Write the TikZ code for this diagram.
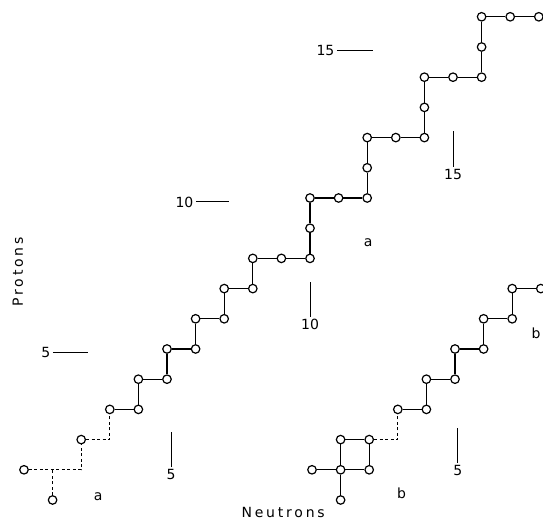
\documentclass[tikz,border=0pt]{standalone}
\usepackage{fontspec}
\setmainfont{DejaVu Sans}
\usetikzlibrary{positioning}

\tikzset{
  nuc/.style={circle,draw,fill=white,inner sep=0pt,minimum size=8.5pt,line width=1.2pt},
  bond/.style={line width=1.3pt},
  gap/.style={line width=1.2pt,dash pattern=on 3pt off 2.5pt},
  scaletick/.style={line width=1pt},
  lbl/.style={font=\fontsize{14}{16}\selectfont},
  word/.style={font=\fontsize{14}{16}\selectfont\addfontfeatures{LetterSpace=20}}
}

\begin{document}
\begin{tikzpicture}[x=28.6pt,y=30.2pt]
\useasboundingbox (-24pt,-21pt) rectangle (519pt,500pt);

% chart a
\foreach \n/\z in {0/1,1/0,2/2,3/3,4/3,4/4,5/4,5/5,6/5,6/6,7/6,7/7,8/7,8/8,9/8,10/8,10/9,10/10,
                   11/10,12/10,12/11,12/12,13/12,14/12,14/13,14/14,15/14,16/14,16/15,16/16,17/16,18/16}
  \node [nuc] (a-\n-\z) at (\n,\z) {};
\coordinate (a-1-1) at (1,1);
\coordinate (a-2-1) at (2,1);
\coordinate (a-3-2) at (3,2);

\draw [gap] (a-0-1) -- (a-1-1) -- (a-2-1) -- (a-2-2) -- (a-3-2) -- (a-3-3);
\draw [gap] (a-1-0) -- (a-1-1);
\draw [bond] (a-3-3) -- (a-4-3) -- (a-4-4) -- (a-5-4) -- (a-5-5) -- (a-6-5) -- (a-6-6) -- (a-7-6)
  -- (a-7-7) -- (a-8-7) -- (a-8-8) -- (a-9-8) -- (a-10-8) -- (a-10-9) -- (a-10-10) -- (a-11-10)
  -- (a-12-10) -- (a-12-11) -- (a-12-12) -- (a-13-12) -- (a-14-12) -- (a-14-13) -- (a-14-14)
  -- (a-15-14) -- (a-16-14) -- (a-16-15) -- (a-16-16) -- (a-17-16) -- (a-18-16);

% chart b
\begin{scope}[shift={(10.07,0)}]
\foreach \n/\z in {0/1,1/1,1/0,2/1,2/2,1/2,3/3,4/3,4/4,5/4,5/5,6/5,6/6,7/6,7/7,8/7}
  \node [nuc] (b-\n-\z) at (\n,\z) {};
\coordinate (b-3-2) at (3,2);

\draw [bond] (b-0-1) -- (b-1-1) -- (b-2-1) -- (b-2-2) -- (b-1-2) -- (b-1-1) -- (b-1-0);
\draw [gap] (b-2-2) -- (b-3-2) -- (b-3-3);
\draw [bond] (b-3-3) -- (b-4-3) -- (b-4-4) -- (b-5-4) -- (b-5-5) -- (b-6-5) -- (b-6-6) -- (b-7-6)
  -- (b-7-7) -- (b-8-7);
\end{scope}

% proton ticks
\path (1.01,4.87) coordinate (P5);
\path (6.01,9.87) coordinate (P10);
\path (10.94,14.87) coordinate (P15);
\draw [scaletick] (P5) -- ++(1.23,0);
\draw [scaletick] (P10) -- ++(1.16,0);
\draw [scaletick] (P15) -- ++(1.26,0);
\node [lbl, left=-1pt of P5] (lp5) {5};
\node [lbl, left=-1pt of P10] (lp10) {10};
\node [lbl, left=-1pt of P15] (lp15) {15};

% neutron ticks
\path (5.14,1.09) coordinate (N5a);
\path (10.0,6.06) coordinate (N10a);
\path (15.0,11.03) coordinate (N15a);
\path (15.17,1.23) coordinate (N5b);
\draw [scaletick] (N5a) -- ++(0,1.16);
\draw [scaletick] (N10a) -- ++(0,1.16);
\draw [scaletick] (N15a) -- ++(0,1.19);
\draw [scaletick] (N5b) -- ++(0,1.15);
\node [lbl, below=-1pt of N5a] (ln5a) {5};
\node [lbl, below=-1pt of N10a] (ln10a) {10};
\node [lbl, below=-1pt of N15a] (ln15a) {15};
\node [lbl, below=-1pt of N5b] (ln5b) {5};

% labels
\node [lbl] (capa1) at (2.59,0.1) {a};
\node [lbl] (capa2) at (12.03,8.51) {a};
\node [lbl] (capb1) at (13.2,0.23) {b};
\node [lbl] (capb2) at (17.9,5.53) {b};
\node [word] (xlab) at (9.06,-0.43) {Neutrons};
\node [word, rotate=90] (ylab) at (-0.21,7.55) {Protons};

\end{tikzpicture}
\end{document}
